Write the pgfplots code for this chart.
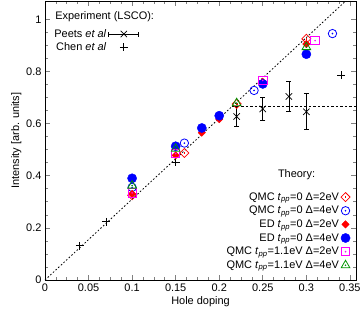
\documentclass[border=0pt]{standalone}
\usepackage{fontspec}
\setmainfont{Liberation Sans}
\usepackage{pgfplots}
\usepackage{pgfplotstable}
\pgfplotsset{compat=1.18}
\definecolor{qgreen}{RGB}{0,150,0}
\definecolor{qmag}{RGB}{255,0,255}

\pgfdeclareplotmark{dsquare}{%
  \pgfpathrectangle{\pgfqpoint{-\pgfplotmarksize}{-\pgfplotmarksize}}{\pgfqpoint{2\pgfplotmarksize}{2\pgfplotmarksize}}%
  \pgfusepathqstroke
  \pgfpathcircle{\pgfpointorigin}{0.35pt}\pgfusepathqfillstroke}
\pgfdeclareplotmark{dcircle}{%
  \pgfpathcircle{\pgfpointorigin}{\pgfplotmarksize}\pgfusepathqstroke
  \pgfpathcircle{\pgfpointorigin}{0.35pt}\pgfusepathqfillstroke}
\pgfdeclareplotmark{dtriangle}{%
  \pgfpathmoveto{\pgfqpointpolar{90}{\pgfplotmarksize}}%
  \pgfpathlineto{\pgfqpointpolar{210}{\pgfplotmarksize}}%
  \pgfpathlineto{\pgfqpointpolar{330}{\pgfplotmarksize}}%
  \pgfpathclose\pgfusepathqstroke
  \pgfpathcircle{\pgfpointorigin}{0.35pt}\pgfusepathqfillstroke}

\pgfplotstableread{
x y e
0.22 0.627 0.038
0.25 0.656 0.044
0.28 0.704 0.058
0.30 0.645 0.069
}\peets
\pgfplotstableread{
x y
0.04 0.131
0.07 0.223
0.15 0.451
0.34 0.785
}\chen
\pgfplotstableread{
x y
0.10 0.325
0.16 0.487
0.22 0.675
0.30 0.925
}\qmcAtwo
\pgfplotstableread{
x y
0.10 0.355
0.16 0.525
0.24 0.727
0.33 0.945
}\qmcAfour
\pgfplotstableread{
x y
0.10 0.330
0.15 0.478
0.18 0.565
0.20 0.617
0.25 0.760
0.30 0.905
}\edtwo
\pgfplotstableread{
x y
0.10 0.390
0.15 0.513
0.18 0.583
0.20 0.630
0.25 0.752
0.30 0.866
}\edfour
\pgfplotstableread{
x y
0.10 0.334
0.15 0.485
0.25 0.765
0.31 0.918
}\qmcBtwo
\pgfplotstableread{
x y
0.10 0.362
0.15 0.503
0.22 0.678
0.30 0.893
}\qmcBfour

\newcommand{\tpp}{\textit{t}\textsubscript{\textit{pp}}}

\begin{document}
\begin{tikzpicture}[font=\fontsize{11}{13}\selectfont]
\pgfplotsset{
  common/.style={
    scale only axis, width=311bp, height=279bp,
    xmin=0, xmax=0.357, ymin=0, ymax=1.07,
    at={(0bp,0bp)}, anchor=south west,
  }
}
\begin{axis}[common,
  xtick={0,0.05,0.1,0.15,0.2,0.25,0.3,0.35},
  ytick={0,0.2,0.4,0.6,0.8,1},
  minor x tick num=3, minor y tick num=3,
  tick align=inside,
  major tick length=5bp, minor tick length=3bp,
  tick style={line width=0.6bp},
  axis line style={line width=0.8bp},
  /pgf/number format/assume math mode=true,
  xticklabel style={/pgf/number format/fixed, /pgf/number format/precision=2},
  yticklabel style={/pgf/number format/fixed, /pgf/number format/precision=1},
  xlabel={Hole doping}, ylabel={Intensity [arb. units]},
  xlabel style={yshift=2bp},
  ylabel style={yshift=-2bp},
  legend cell align=right, legend plot pos=right,
  legend style={draw=none, fill=none, at={(rel axis cs:0.02,0.91)}, anchor=north west,
    row sep=0bp, inner sep=1bp, font=\fontsize{11}{13}\selectfont},
]
\addplot[black, line width=0.8bp, dash pattern=on 1.6bp off 2bp, forget plot] coordinates {(0,0) (0.345,1.0695)};
\addplot[black, line width=0.8bp, dash pattern=on 2.5bp off 2bp, forget plot] coordinates {(0.215,0.665) (0.357,0.665)};
\addplot[black, only marks, mark=x, mark size=4.5bp, line width=0.7bp, forget plot,
  error bars/.cd, y dir=both, y explicit,
  error mark options={rotate=90, mark size=2.5bp, line width=0.7bp},
  error bar style={line width=0.7bp}]
  table[x=x, y=y, y error=e] {\peets};
\addlegendimage{legend image code/.code={
  \draw[black, line width=0.7bp] (0bp,-2.5bp)--(0bp,2.5bp) (0bp,0bp)--(30bp,0bp) (30bp,-2.5bp)--(30bp,2.5bp);
  \draw[black, line width=0.7bp] plot[mark=x, mark size=4.5bp] coordinates {(15bp,0bp)};}}
\addlegendentry{Peets \textit{et al}}
\addplot[black, only marks, mark=+, mark size=4bp, line width=0.8bp, forget plot]
  table[x=x, y=y] {\chen};
\addlegendimage{legend image code/.code={\path[draw=none] (0bp,0bp)--(30bp,0bp);
  \draw[black, line width=0.8bp] plot[mark=+, mark size=4bp] coordinates {(15bp,0bp)};}}
\addlegendentry{Chen \textit{et al}}
\node[anchor=west] at (rel axis cs:0.022,0.943) {Experiment (LSCO):};
\end{axis}

\begin{axis}[common, hide axis,
  legend cell align=right, legend plot pos=right,
  legend style={draw=none, fill=none, at={(rel axis cs:0.985,0.025)}, anchor=south east,
    row sep=0.5bp, inner sep=1bp, font=\fontsize{11}{13}\selectfont},
]
\addplot[red, only marks, mark=dsquare, mark size=3.2bp, line width=0.8bp, mark options={rotate=45, fill=red}]
  table[x=x, y=y] {\qmcAtwo};
\addlegendentry{QMC \tpp=0 Δ=2eV}
\addplot[blue, only marks, mark=dcircle, mark size=4.2bp, line width=0.8bp, mark options={fill=blue}]
  table[x=x, y=y] {\qmcAfour};
\addlegendentry{QMC \tpp=0 Δ=4eV}
\addplot[red, only marks, mark=square*, mark size=2.6bp, mark options={rotate=45, fill=red}]
  table[x=x, y=y] {\edtwo};
\addlegendentry{ED \tpp=0 Δ=2eV}
\addplot[blue, only marks, mark=*, mark size=4.6bp, mark options={fill=blue}]
  table[x=x, y=y] {\edfour};
\addlegendentry{ED \tpp=0 Δ=4eV}
\addplot[draw=qmag, fill=qmag, only marks, mark=dsquare, mark size=4.2bp, line width=0.8bp,
  mark options={draw=qmag, fill=qmag}, legend image post style={draw=qmag, fill=qmag}]
  table[x=x, y=y] {\qmcBtwo};
\addlegendentry{QMC \tpp=1.1eV Δ=2eV}
\addplot[color=qgreen, only marks, mark=dtriangle, mark size=5bp, line width=0.8bp, mark options={draw=qgreen, fill=qgreen}]
  table[x=x, y=y] {\qmcBfour};
\addlegendentry{QMC \tpp=1.1eV Δ=4eV}
\node[anchor=east] at (rel axis cs:0.880,0.376) {Theory:};
\end{axis}

\pgfresetboundingbox
\path[use as bounding box] (-45bp,-33bp) rectangle (315bp,280bp);
\end{tikzpicture}
\end{document}
